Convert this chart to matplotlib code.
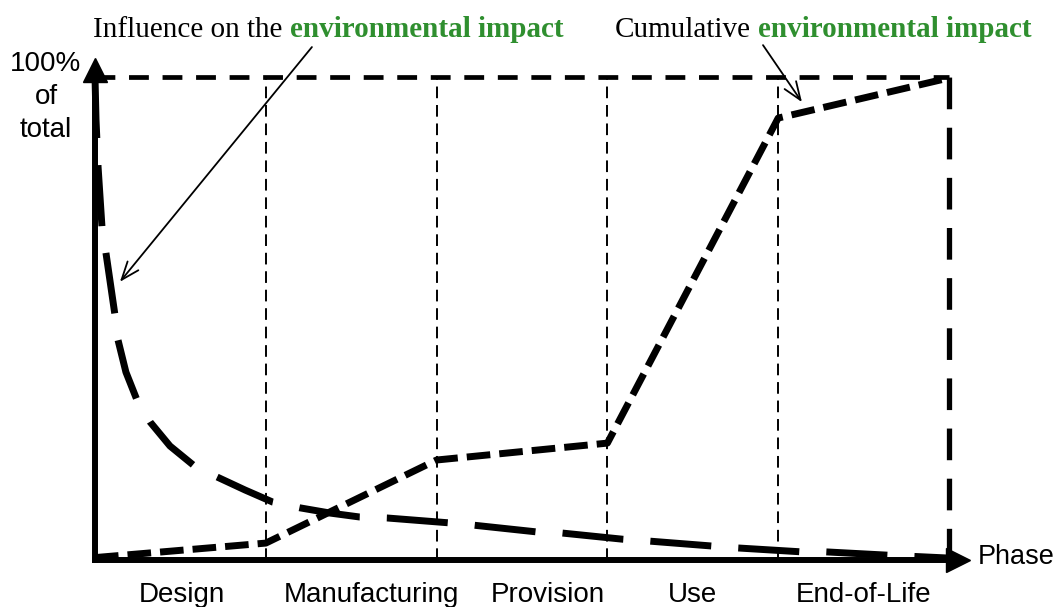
import matplotlib.pyplot as plt

# phase boundaries (x in phase units, y in % of total)
phase_edges = [0, 1, 2, 3, 4, 5]
phase_names = ['Design', 'Manufacturing', 'Provision', 'Use', 'End-of-Life']
label_x = [0.51, 1.62, 2.65, 3.5, 4.5]

# cumulative environmental impact, read at each phase edge
cumul_x = [0, 1, 2, 3, 4, 5]
cumul_y = [0.5, 3.5, 20.7, 24.2, 91.5, 99.8]

# influence on the environmental impact (decaying curve)
infl_x = [0, 0.006, 0.018, 0.041, 0.064, 0.117, 0.135, 0.181, 0.246, 0.322,
          0.439, 0.574, 0.714, 0.878, 1.04, 1.20, 1.38, 1.55, 1.71, 2.07,
          2.22, 2.59, 2.73, 3.09, 3.25, 3.61, 3.76, 4.13, 4.27, 4.64, 5.0]
infl_y = [100, 91.1, 81.4, 68.9, 63.6, 50.7, 45.5, 38.9, 33.1, 28.6,
          23.6, 19.7, 17.2, 14.5, 12.0, 10.8, 9.7, 8.9, 8.7, 7.7,
          7.2, 5.8, 5.6, 4.3, 3.9, 2.9, 2.5, 1.7, 1.7, 1.0, 0.4]

GREEN = '#2f8f2f'
W, H = 1062, 607
X0, PX_PER_X = 95, 170.8     # pixel of x=0, pixels per phase
Y0, PX_PER_Y = 560, 4.83     # pixel row of y=0, pixels per percent

fig = plt.figure(figsize=(W / 100, H / 100), dpi=100)
ax = fig.add_axes([0, 0, 1, 1])
ax.set_xlim(-X0 / PX_PER_X, (W - X0) / PX_PER_X)
ax.set_ylim((Y0 - H) / PX_PER_Y, Y0 / PX_PER_Y)
ax.axis('off')

# frame: top dashed line, right dashed line, thin dashed phase separators
ax.plot([0, 5], [100, 100], color='black', lw=3.4, ls=(0, (4.2, 2.9)))
ax.plot([5, 5], [0, 100], color='black', lw=3.8, ls=(0, (6, 3.5)))
for xe in phase_edges[1:-1]:
    ax.plot([xe, xe], [0, 100], color='black', lw=1.4, ls=(0, (6, 3.5)))

# curves
ax.plot(infl_x, infl_y, color='black', lw=5, ls=(0, (8.8, 3.9)),
        solid_joinstyle='round', zorder=4)
ax.plot(cumul_x, cumul_y, color='black', lw=5, ls=(0, (3.4, 1.3)), zorder=4)

# axes with arrow heads
ax.plot([0, 0], [0, 98], color='black', lw=4.3, solid_capstyle='projecting', zorder=5)
ax.plot([0, 5.0], [0, 0], color='black', lw=4.3, solid_capstyle='projecting', zorder=5)
ax.plot([0], [101.4], marker='^', ms=17, color='black', zorder=5)
ax.plot([5.053], [0], marker='>', ms=17, color='black', zorder=5)

# axis labels
ax.text(-49 / PX_PER_X, (Y0 - 97) / PX_PER_Y, '100%\nof\ntotal', ha='center',
        va='center', fontsize=20, family='Liberation Sans', linespacing=1.35)
ax.text((978 - X0) / PX_PER_X, 0.6, 'Phase', ha='left', va='center',
        fontsize=19.5, family='Liberation Sans')
for xl, name in zip(label_x, phase_names):
    ax.text(xl, (Y0 - 602) / PX_PER_Y, name, ha='center', va='baseline',
            fontsize=20, family='Liberation Sans')

# headings
base_y = (Y0 - 37) / PX_PER_Y
ax.text((93 - X0) / PX_PER_X, base_y, 'Influence on the', fontsize=21,
        family='Liberation Serif', va='baseline')
ax.text((290 - X0) / PX_PER_X, base_y, 'environmental impact', fontsize=21,
        family='Liberation Serif', weight='bold', color=GREEN, va='baseline')
ax.text((615 - X0) / PX_PER_X, base_y, 'Cumulative', fontsize=21,
        family='Liberation Serif', va='baseline')
ax.text((758 - X0) / PX_PER_X, base_y, 'environmental impact', fontsize=21,
        family='Liberation Serif', weight='bold', color=GREEN, va='baseline')

arrow_kw = dict(arrowstyle='->,head_length=0.65,head_width=0.25',
                color='black', lw=1.3, mutation_scale=20, shrinkA=0, shrinkB=0)
ax.annotate('', xy=(0.146, 57.6), xytext=(1.27, 106.2), arrowprops=arrow_kw)
ax.annotate('', xy=(4.139, 94.8), xytext=(3.911, 106.6), arrowprops=arrow_kw)

fig.savefig('out.png', dpi=100)
